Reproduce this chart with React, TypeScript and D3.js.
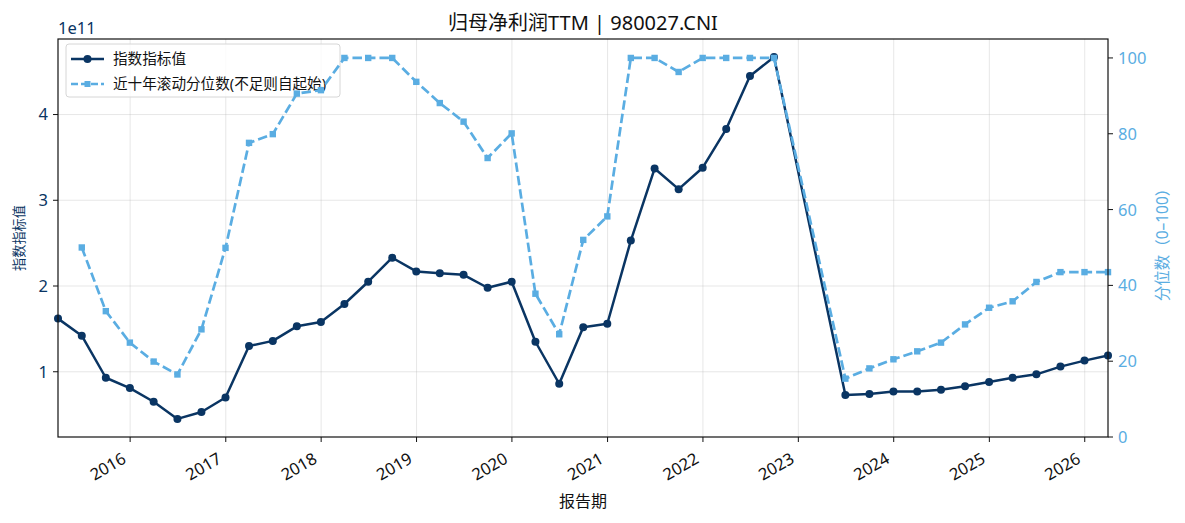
import React from 'react';
import * as d3 from 'd3';

// quarterly report dates (2022-12 and 2023-03 are missing in the source)
const dates = [
  '2015-03-31', '2015-06-30', '2015-09-30', '2015-12-31',
  '2016-03-31', '2016-06-30', '2016-09-30', '2016-12-31',
  '2017-03-31', '2017-06-30', '2017-09-30', '2017-12-31',
  '2018-03-31', '2018-06-30', '2018-09-30', '2018-12-31',
  '2019-03-31', '2019-06-30', '2019-09-30', '2019-12-31',
  '2020-03-31', '2020-06-30', '2020-09-30', '2020-12-31',
  '2021-03-31', '2021-06-30', '2021-09-30', '2021-12-31',
  '2022-03-31', '2022-06-30', '2022-09-30',
  '2023-06-30', '2023-09-30', '2023-12-31',
  '2024-03-31', '2024-06-30', '2024-09-30', '2024-12-31',
  '2025-03-31', '2025-06-30', '2025-09-30', '2025-12-31',
  '2026-03-31',
];

// index value, units of 1e11
const indexValues = [
  1.62, 1.42, 0.93, 0.81,
  0.65, 0.45, 0.53, 0.70,
  1.30, 1.36, 1.53, 1.58,
  1.79, 2.05, 2.33, 2.17,
  2.15, 2.13, 1.98, 2.05,
  1.35, 0.86, 1.52, 1.56,
  2.53, 3.37, 3.13, 3.38,
  3.83, 4.45, 4.67,
  0.73, 0.74, 0.77,
  0.77, 0.79, 0.83, 0.88,
  0.93, 0.97, 1.06, 1.13,
  1.19,
];

// rolling 10y percentile (null = not available yet)
const pctValues: (number | null)[] = [
  null, 50.0, 33.2, 24.9,
  19.9, 16.5, 28.4, 49.9,
  77.6, 79.9, 90.6, 91.5,
  100, 100, 100, 93.7,
  88.1, 83.2, 73.6, 80.1,
  37.8, 27.1, 52.0, 58.2,
  100, 100, 96.3, 100,
  100, 100, 100,
  15.4, 18.1, 20.5,
  22.6, 24.9, 29.7, 34.1,
  35.8, 40.9, 43.5, 43.5,
  43.5,
];

const leftTicks = [1, 2, 3, 4];
const rightTicks = [0, 20, 40, 60, 80, 100];
const yearTicks = [2016, 2017, 2018, 2019, 2020, 2021, 2022, 2023, 2024, 2025, 2026];

const W = 1185;
const H = 523;
const margin = { top: 39, right: 77, bottom: 86, left: 58 };
const dark = '#0a3563';
const light = '#5aade2';
// latin glyphs from Noto Sans, chinese falls back to the CJK face
const font = '"Noto Sans", "Noto Sans CJK SC", sans-serif';
const tickSize = 16.5;

export default function App() {
  const parse = d3.utcParse('%Y-%m-%d');
  const rows = dates.map((d, i) => ({ date: parse(d) as Date, v: indexValues[i], p: pctValues[i] }));

  const x = d3.scaleUtc()
    .domain(d3.extent(rows, (d) => d.date) as [Date, Date])
    .range([margin.left, W - margin.right]);

  const vmin = d3.min(indexValues) as number;
  const vmax = d3.max(indexValues) as number;
  const pad = (vmax - vmin) * 0.05;
  const yL = d3.scaleLinear().domain([vmin - pad, vmax + pad]).range([H - margin.bottom, margin.top]);
  const yR = d3.scaleLinear().domain([0, 105]).range([H - margin.bottom, margin.top]);

  const mainLine = d3.line<typeof rows[0]>()
    .x((d) => x(d.date))
    .y((d) => yL(d.v));

  const pctRows = rows.filter((d) => d.p !== null);
  const pctLine = d3.line<typeof rows[0]>()
    .x((d) => x(d.date))
    .y((d) => yR(d.p as number));

  const x0 = margin.left;
  const x1 = W - margin.right;
  const yTop = margin.top;
  const yBot = H - margin.bottom;
  const midX = (x0 + x1) / 2;
  const midY = (yTop + yBot) / 2;

  return (
    <svg width={W} height={H} style={{ position: 'absolute', left: 0, top: 0, fontFamily: font }}>
      <rect width={W} height={H} fill="#fff" />
      <defs>
        <clipPath id="plot">
          <rect x={x0} y={yTop} width={x1 - x0} height={yBot - yTop} />
        </clipPath>
      </defs>

      {/* grid */}
      {yearTicks.map((yr) => {
        const xx = x(new Date(Date.UTC(yr, 0, 1)));
        return <line key={'gx' + yr} x1={xx} x2={xx} y1={yTop} y2={yBot} stroke="#b0b0b0" strokeOpacity={0.35} strokeWidth={0.9} />;
      })}
      {leftTicks.map((t) => (
        <line key={'gy' + t} x1={x0} x2={x1} y1={yL(t)} y2={yL(t)} stroke="#b0b0b0" strokeOpacity={0.35} strokeWidth={0.9} />
      ))}

      {/* index line */}
      <g clipPath="url(#plot)">
        <path d={mainLine(rows) || ''} fill="none" stroke={dark} strokeWidth={2.5} strokeLinejoin="round" />
      </g>
      {rows.map((d, i) => (
        <circle key={'c' + i} cx={x(d.date)} cy={yL(d.v)} r={4} fill={dark} />
      ))}

      {/* legend */}
      <g>
        <rect x={66} y={44} width={274} height={53} rx={3} fill="#fff" fillOpacity={0.8} stroke="#d6d6d6" strokeWidth={1} />
        <line x1={71} x2={104} y1={59} y2={59} stroke={dark} strokeWidth={2.5} />
        <circle cx={87.5} cy={59} r={4} fill={dark} />
        <text x={113} y={59} dy="0.36em" fontSize={14.6} fill="#111">指数指标值</text>
        <line x1={71} x2={104} y1={84} y2={84} stroke={light} strokeWidth={2.7} strokeDasharray="7,3" />
        <rect x={84.5} y={81} width={6} height={6} fill={light} />
        <text x={113} y={84} dy="0.36em" fontSize={14.6} fill="#111">近十年滚动分位数(不足则自起始)</text>
      </g>

      {/* percentile line (twin axis, on top) */}
      <g clipPath="url(#plot)">
        <path d={pctLine(pctRows) || ''} fill="none" stroke={light} strokeWidth={2.7} strokeDasharray="9.5,4" strokeLinejoin="round" />
      </g>
      {pctRows.map((d, i) => (
        <rect key={'s' + i} x={x(d.date) - 3.2} y={yR(d.p as number) - 3.2} width={6.4} height={6.4} fill={light} />
      ))}

      {/* frame */}
      <rect x={x0} y={yTop} width={x1 - x0} height={yBot - yTop} fill="none" stroke="#111" strokeWidth={1.2} />

      {/* x axis */}
      {yearTicks.map((yr) => {
        const xx = x(new Date(Date.UTC(yr, 0, 1)));
        return (
          <g key={'xt' + yr}>
            <line x1={xx} x2={xx} y1={yBot} y2={yBot + 5} stroke="#111" />
            <text
              transform={`translate(${xx - 3},${yBot + 25}) rotate(-30)`}
              textAnchor="end"
              fontSize={tickSize}
              fill="#111"
            >
              {yr}
            </text>
          </g>
        );
      })}
      <text x={midX} y={507} textAnchor="middle" fontSize={16} fill="#111">报告期</text>

      {/* left axis */}
      {leftTicks.map((t) => (
        <g key={'lt' + t}>
          <line x1={x0 - 5} x2={x0} y1={yL(t)} y2={yL(t)} stroke="#111" />
          <text x={x0 - 10} y={yL(t)} dy="0.36em" textAnchor="end" fontSize={tickSize} fill={dark}>{t}</text>
        </g>
      ))}
      <text x={x0} y={34} fontSize={tickSize} fill={dark}>1e11</text>
      <text transform={`translate(24,${midY}) rotate(-90)`} textAnchor="middle" fontSize={13.2} fill={dark}>指数指标值</text>

      {/* right axis */}
      {rightTicks.map((t) => (
        <g key={'rt' + t}>
          <line x1={x1} x2={x1 + 5} y1={yR(t)} y2={yR(t)} stroke="#111" />
          <text x={x1 + 10} y={yR(t)} dy="0.36em" fontSize={tickSize} fill={light}>{t}</text>
        </g>
      ))}
      <text transform={`translate(1168,241) rotate(-90)`} textAnchor="middle" fontSize={15.5} fill={light}>
        分位数（0–100）
      </text>

      {/* title */}
      <text x={midX} y={30} textAnchor="middle" fontSize={20} fill="#111">归母净利润TTM | 980027.CNI</text>
    </svg>
  );
}
